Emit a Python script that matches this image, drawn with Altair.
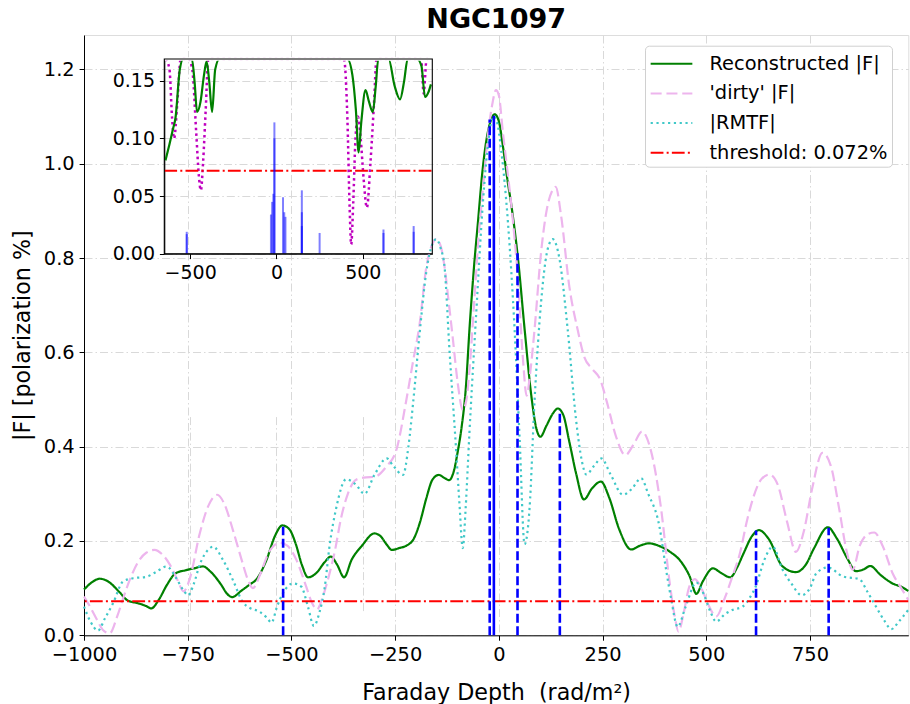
import altair as alt
import pandas as pd

# ---------------- data ----------------
recon_phi = [-1000, -980, -962, -940, -915, -895, -870, -850, -838, -820, -800, -780, -755, -735, -713,
             -695, -670, -655, -643, -620, -600, -585, -560, -540, -522, -505, -490, -475, -460, -440,
             -420, -405, -390, -373, -355, -330, -300, -285, -270, -258, -240, -223, -205, -190, -175,
             -160, -145, -130, -120, -108, -100, -90, -80, -70, -60, -50, -40, -30, -20, -10,
             0, 10, 20, 30, 46, 62, 78, 90, 100, 115, 130, 142, 155, 170, 186,
             205, 225, 246, 266, 290, 319, 340, 362, 385, 411, 440, 460, 476, 492, 516,
             536, 558, 575, 590, 610, 627, 650, 684, 716, 740, 760, 793, 815, 840, 861,
             880, 895, 920, 949, 970, 987]
recon_val = [0.097, 0.113, 0.120, 0.113, 0.092, 0.074, 0.068, 0.062, 0.057, 0.075, 0.107, 0.131, 0.138, 0.142, 0.146,
             0.135, 0.108, 0.088, 0.081, 0.095, 0.108, 0.118, 0.160, 0.210, 0.233, 0.225, 0.195, 0.150, 0.123, 0.132,
             0.155, 0.167, 0.150, 0.123, 0.160, 0.190, 0.216, 0.210, 0.192, 0.181, 0.185, 0.190, 0.205, 0.240, 0.290,
             0.330, 0.340, 0.333, 0.329, 0.350, 0.385, 0.440, 0.520, 0.660, 0.780, 0.880, 0.980, 1.050, 1.090, 1.105,
             1.090, 1.036, 0.970, 0.913, 0.800, 0.650, 0.510, 0.440, 0.421, 0.445, 0.470, 0.481, 0.468, 0.410, 0.344,
             0.288, 0.312, 0.326, 0.292, 0.225, 0.182, 0.190, 0.195, 0.190, 0.178, 0.155, 0.125, 0.088, 0.115, 0.142,
             0.132, 0.123, 0.145, 0.174, 0.210, 0.223, 0.205, 0.146, 0.134, 0.150, 0.185, 0.229, 0.205, 0.163, 0.136,
             0.140, 0.147, 0.128, 0.110, 0.103, 0.094]

dirty_phi = [-1000, -985, -970, -955, -938, -920, -905, -890, -870, -850, -830, -812, -793, -775, -760,
             -745, -721, -700, -679, -660, -641, -620, -605, -593, -575, -555, -528, -510, -488, -465,
             -450, -438, -425, -410, -395, -380, -364, -344, -320, -300, -271, -247, -223, -207, -191,
             -175, -160, -151, -140, -131, -120, -111, -99, -87, -78, -71, -60, -50, -38, -25,
             -15, -7, 0, 10, 20, 30, 46, 58, 67, 76, 86, 102, 115, 130, 137,
             150, 170, 190, 206, 225, 245, 260, 283, 305, 325, 345, 367, 391, 411, 424,
             433, 445, 458, 472, 488, 505, 524, 545, 565, 580, 600, 632, 652, 672, 695,
             716, 735, 755, 780, 800, 820, 838, 853, 870, 890, 905, 925, 950, 970, 987]
dirty_val = [0.082, 0.060, 0.035, 0.012, 0.004, 0.040, 0.080, 0.117, 0.155, 0.175, 0.181, 0.172, 0.150, 0.118, 0.093,
             0.120, 0.216, 0.275, 0.298, 0.275, 0.223, 0.160, 0.118, 0.100, 0.130, 0.175, 0.196, 0.190, 0.160, 0.105,
             0.068, 0.055, 0.080, 0.125, 0.180, 0.250, 0.300, 0.330, 0.335, 0.336, 0.358, 0.393, 0.499, 0.580, 0.660,
             0.780, 0.830, 0.840, 0.825, 0.782, 0.700, 0.630, 0.534, 0.478, 0.500, 0.560, 0.700, 0.830, 0.950, 1.070,
             1.130, 1.156, 1.145, 1.064, 0.990, 0.913, 0.754, 0.587, 0.508, 0.560, 0.648, 0.814, 0.900, 0.945, 0.951,
             0.890, 0.739, 0.648, 0.590, 0.565, 0.541, 0.496, 0.420, 0.382, 0.405, 0.432, 0.390, 0.269, 0.117, 0.040,
             0.008, 0.045, 0.100, 0.119, 0.100, 0.065, 0.040, 0.080, 0.130, 0.170, 0.250, 0.330, 0.341, 0.320, 0.240,
             0.177, 0.220, 0.310, 0.387, 0.360, 0.270, 0.180, 0.139, 0.190, 0.215, 0.218, 0.190, 0.130, 0.100, 0.075]

rmtf_phi = [-1000, -985, -966, -950, -930, -906, -882, -850, -825, -801, -777, -760, -749, -735, -721,
            -700, -689, -665, -641, -617, -600, -577, -560, -548, -535, -520, -496, -476, -460, -446,
            -432, -420, -408, -392, -368, -345, -324, -300, -270, -255, -231, -218, -207, -191, -175,
            -160, -151, -140, -131, -119, -103, -95, -87, -80, -71, -55, -38, -25, -14, -5,
            6, 22, 38, 50, 62, 74, 86, 102, 118, 130, 146, 166, 186, 200, 211,
            230, 247, 270, 299, 320, 343, 360, 387, 403, 415, 431, 450, 476, 495, 510,
            524, 545, 564, 588, 605, 619, 640, 660, 684, 705, 730, 750, 765, 793, 829,
            869, 890, 909, 930, 946, 965, 987]
rmtf_val = [0.061, 0.030, 0.010, 0.035, 0.068, 0.114, 0.121, 0.124, 0.135, 0.146, 0.120, 0.095, 0.085, 0.110, 0.150,
            0.182, 0.188, 0.160, 0.117, 0.070, 0.058, 0.050, 0.038, 0.027, 0.060, 0.090, 0.110, 0.103, 0.060, 0.020,
            0.050, 0.100, 0.190, 0.270, 0.331, 0.320, 0.300, 0.340, 0.375, 0.360, 0.340, 0.400, 0.490, 0.640, 0.770,
            0.830, 0.840, 0.820, 0.782, 0.605, 0.393, 0.280, 0.185, 0.270, 0.428, 0.676, 0.923, 1.050, 1.100, 1.090,
            1.026, 0.875, 0.648, 0.420, 0.193, 0.269, 0.496, 0.708, 0.820, 0.840, 0.799, 0.648, 0.458, 0.370, 0.341,
            0.360, 0.375, 0.340, 0.298, 0.310, 0.333, 0.300, 0.231, 0.140, 0.079, 0.018, 0.060, 0.112, 0.085, 0.050,
            0.029, 0.045, 0.054, 0.061, 0.080, 0.103, 0.160, 0.188, 0.139, 0.110, 0.085, 0.100, 0.131, 0.144, 0.125,
            0.119, 0.090, 0.061, 0.030, 0.013, 0.030, 0.054]

threshold = 0.072

# clean components drawn as dashed lines in the main panel
comp_phi = [-520, -22, 45, 147, 620, 795]
comp_amp = [0.230, 1.094, 0.810, 0.478, 0.222, 0.228]
comp_solid_phi = [-12]
comp_solid_amp = [1.102]

# clean component amplitudes shown in the inset
inset_comp_phi = [-520, -520, -32, -25, -18, -12, -12, 38, 45, 52, 147, 147, 147, 250, 620, 620, 795, 795]
inset_comp_amp = [0.019, 0.017, 0.034, 0.045, 0.052, 0.114, 0.100, 0.049, 0.036, 0.032, 0.055, 0.036, 0.024,
                  0.018, 0.021, 0.018, 0.024, 0.019]

series_names = ["Reconstructed |F|", "'dirty' |F|", "|RMTF|", "threshold: 0.072%"]
series_colors = ["#008000", "#EDB5ED", "#40C8C8", "#FF0000"]
series_dash = [[1, 0], [11, 4.8], [2.2, 3.6], [12.8, 3.2, 2, 3.2]]

x_domain = [-1000, 987]
y_domain = [0, 1.273]
x_ticks = [-1000, -750, -500, -250, 0, 250, 500, 750]
y_ticks = [0, 0.2, 0.4, 0.6, 0.8, 1.0, 1.2]

inset_x_domain = [-650, 903]
inset_y_domain = [0, 0.169]
inset_x_ticks = [-500, 0, 500]
inset_y_ticks = [0, 0.05, 0.10, 0.15]

# ---------------- layout ----------------
FONT = "DejaVu Sans"
W, H = 824.3, 600.3
inset_px = [80.3, 348.3]
inset_py = [218.7, 24.0]

minus_expr = "replace(datum.label, '-', '\u2212')"
grid_dash = [8, 3, 1.5, 3]
grid_color = "#d9d9d9"

common_axis = dict(grid=True, gridDash=grid_dash, gridColor=grid_color, gridWidth=1,
                   tickSize=4.9, tickColor="black", tickWidth=1, domainColor="black",
                   labelColor="black", labelFont=FONT, labelPadding=4.9,
                   labelFlush=False, labelOverlap=False, labelBound=False)

x_axis = alt.Axis(values=x_ticks, format="d", labelExpr=minus_expr,
                  title="Faraday Depth\u00a0 (rad/m²)", titleFontSize=22.2, titleFontWeight="normal",
                  titleFont=FONT, titleColor="black", titlePadding=18, labelFontSize=19.4, **common_axis)
y_axis = alt.Axis(values=y_ticks, format=".1f",
                  title="|F| [polarization %]", titleFontSize=22.2, titleFontWeight="normal",
                  titleFont=FONT, titleColor="black", titlePadding=9, labelFontSize=19.4, **common_axis)

main_x = alt.Scale(domain=x_domain, nice=False, zero=False)
main_y = alt.Scale(domain=y_domain, nice=False)

legend = alt.Legend(title=None, orient="none", legendX=561, legendY=10.7,
                    symbolType="M-1.604,0H1.604", symbolSize=676, symbolStrokeWidth=2,
                    labelFontSize=19.4, labelFont=FONT, labelColor="black", labelLimit=400,
                    fillColor="white", strokeColor="#d0d0d0", cornerRadius=4, padding=4,
                    rowPadding=5.7, labelOffset=24, symbolOffset=8.5)

color_enc = alt.Color("series:N", scale=alt.Scale(domain=series_names, range=series_colors), legend=legend)
dash_enc = alt.StrokeDash("series:N", scale=alt.Scale(domain=series_names, range=series_dash), legend=legend)

df_lines = pd.concat([
    pd.DataFrame({"phi": recon_phi, "value": recon_val, "series": series_names[0]}),
    pd.DataFrame({"phi": dirty_phi, "value": dirty_val, "series": series_names[1]}),
    pd.DataFrame({"phi": rmtf_phi, "value": rmtf_val, "series": series_names[2]}),
], ignore_index=True)
df_thr = pd.DataFrame({"value": [threshold], "series": [series_names[3]]})
df_comp = pd.DataFrame({"phi": comp_phi, "amp": comp_amp, "base": 0.0})
df_comp_solid = pd.DataFrame({"phi": comp_solid_phi, "amp": comp_solid_amp, "base": 0.0})

mx = alt.X("phi:Q", scale=main_x, axis=x_axis)

lines = alt.Chart(df_lines).mark_line(interpolate="monotone", strokeWidth=2.2).encode(
    x=mx, y=alt.Y("value:Q", scale=main_y, axis=y_axis), color=color_enc, strokeDash=dash_enc)
thr = alt.Chart(df_thr).mark_rule(strokeWidth=2).encode(
    y=alt.Y("value:Q", scale=main_y, axis=y_axis), color=color_enc, strokeDash=dash_enc)
comps = alt.Chart(df_comp).mark_rule(color="#0000FF", strokeWidth=2.6, strokeDash=[9, 3.5]).encode(
    x=mx, y=alt.Y("base:Q", scale=main_y, axis=y_axis), y2="amp:Q")
comps_solid = alt.Chart(df_comp_solid).mark_rule(color="#0000FF", strokeWidth=2.6).encode(
    x=mx, y=alt.Y("base:Q", scale=main_y, axis=y_axis), y2="amp:Q")

main = alt.layer(lines, thr, comps, comps_solid)

# ---------------- inset ----------------
ix = alt.Scale(domain=inset_x_domain, range=inset_px, nice=False, zero=False)
iy = alt.Scale(domain=inset_y_domain, range=inset_py, nice=False, clamp=True)
ix_axis = alt.Axis(values=inset_x_ticks, format="d", labelExpr=minus_expr, title=None, orient="bottom",
                   offset=-(H - inset_py[0]), labelFontSize=19, **common_axis)
iy_axis = alt.Axis(values=inset_y_ticks, format=".2f", title=None, orient="left",
                   offset=-inset_px[0], labelFontSize=19, **common_axis)
ixe = alt.X("phi:Q", scale=ix, axis=ix_axis)

df_recon = pd.DataFrame({"phi": recon_phi, "value": recon_val})
df_dirty = pd.DataFrame({"phi": dirty_phi, "value": dirty_val})
df_icomp = pd.DataFrame({"phi": inset_comp_phi, "amp": inset_comp_amp, "base": 0.0})
df_frame = pd.DataFrame({"x0": [inset_x_domain[0]], "x1": [inset_x_domain[1]],
                         "y0": [inset_y_domain[0]], "y1": [inset_y_domain[1]], "thr": [threshold]})
inrange = alt.FieldRangePredicate(field="phi", range=inset_x_domain)

i_green = alt.Chart(df_recon).transform_filter(inrange).mark_line(
    color="#008000", strokeWidth=2.2, interpolate="monotone", strokeJoin="round").encode(
    x=ixe, y=alt.Y("value:Q", scale=iy, axis=iy_axis))
i_dirty = alt.Chart(df_dirty).transform_filter(inrange).mark_line(
    color="#BF00BF", strokeWidth=2.5, strokeDash=[2.5, 3.3], interpolate="monotone", strokeJoin="round").encode(
    x=ixe, y=alt.Y("value:Q", scale=iy, axis=iy_axis))
i_thr = alt.Chart(df_frame).mark_rule(color="#FF0000", strokeWidth=2, strokeDash=[12.8, 3.2, 2, 3.2]).encode(
    x=alt.X("x0:Q", scale=ix, axis=ix_axis), x2="x1:Q", y=alt.Y("thr:Q", scale=iy, axis=iy_axis))
i_comp = alt.Chart(df_icomp).mark_rule(color="#0000FF", strokeWidth=2, opacity=0.5).encode(
    x=ixe, y=alt.Y("base:Q", scale=iy, axis=iy_axis), y2="amp:Q")
# white band along the inset's upper edge hides the curves' clamped parts (the inset clips them)
i_cut = alt.Chart(df_frame).mark_rule(color="white", strokeWidth=3.4, strokeCap="butt").encode(
    x=alt.X("x0:Q", scale=ix, axis=ix_axis), x2="x1:Q", y=alt.Y("y1:Q", scale=iy, axis=iy_axis))
i_frame = alt.Chart(df_frame).mark_rect(fillOpacity=0, stroke="black", strokeWidth=1.1).encode(
    x=alt.X("x0:Q", scale=ix, axis=ix_axis), x2="x1:Q",
    y=alt.Y("y0:Q", scale=iy, axis=iy_axis), y2="y1:Q")

inset = alt.layer(i_dirty, i_green, i_thr, i_comp, i_cut, i_frame)

chart = alt.layer(main, inset).resolve_scale(x="independent", y="independent").properties(
    width=W, height=H,
    title=alt.TitleParams("NGC1097", fontSize=27, fontWeight="bold", font=FONT, anchor="middle",
                          color="black", offset=1),
    autosize=alt.AutoSizeParams(type="none"),
    padding={"left": 84, "top": 35, "right": 1.7, "bottom": 68.7},
).configure_view(stroke="black", strokeWidth=1).configure(font=FONT, background="white")

chart.save("out.html", embed_options={"renderer": "svg", "actions": False})
